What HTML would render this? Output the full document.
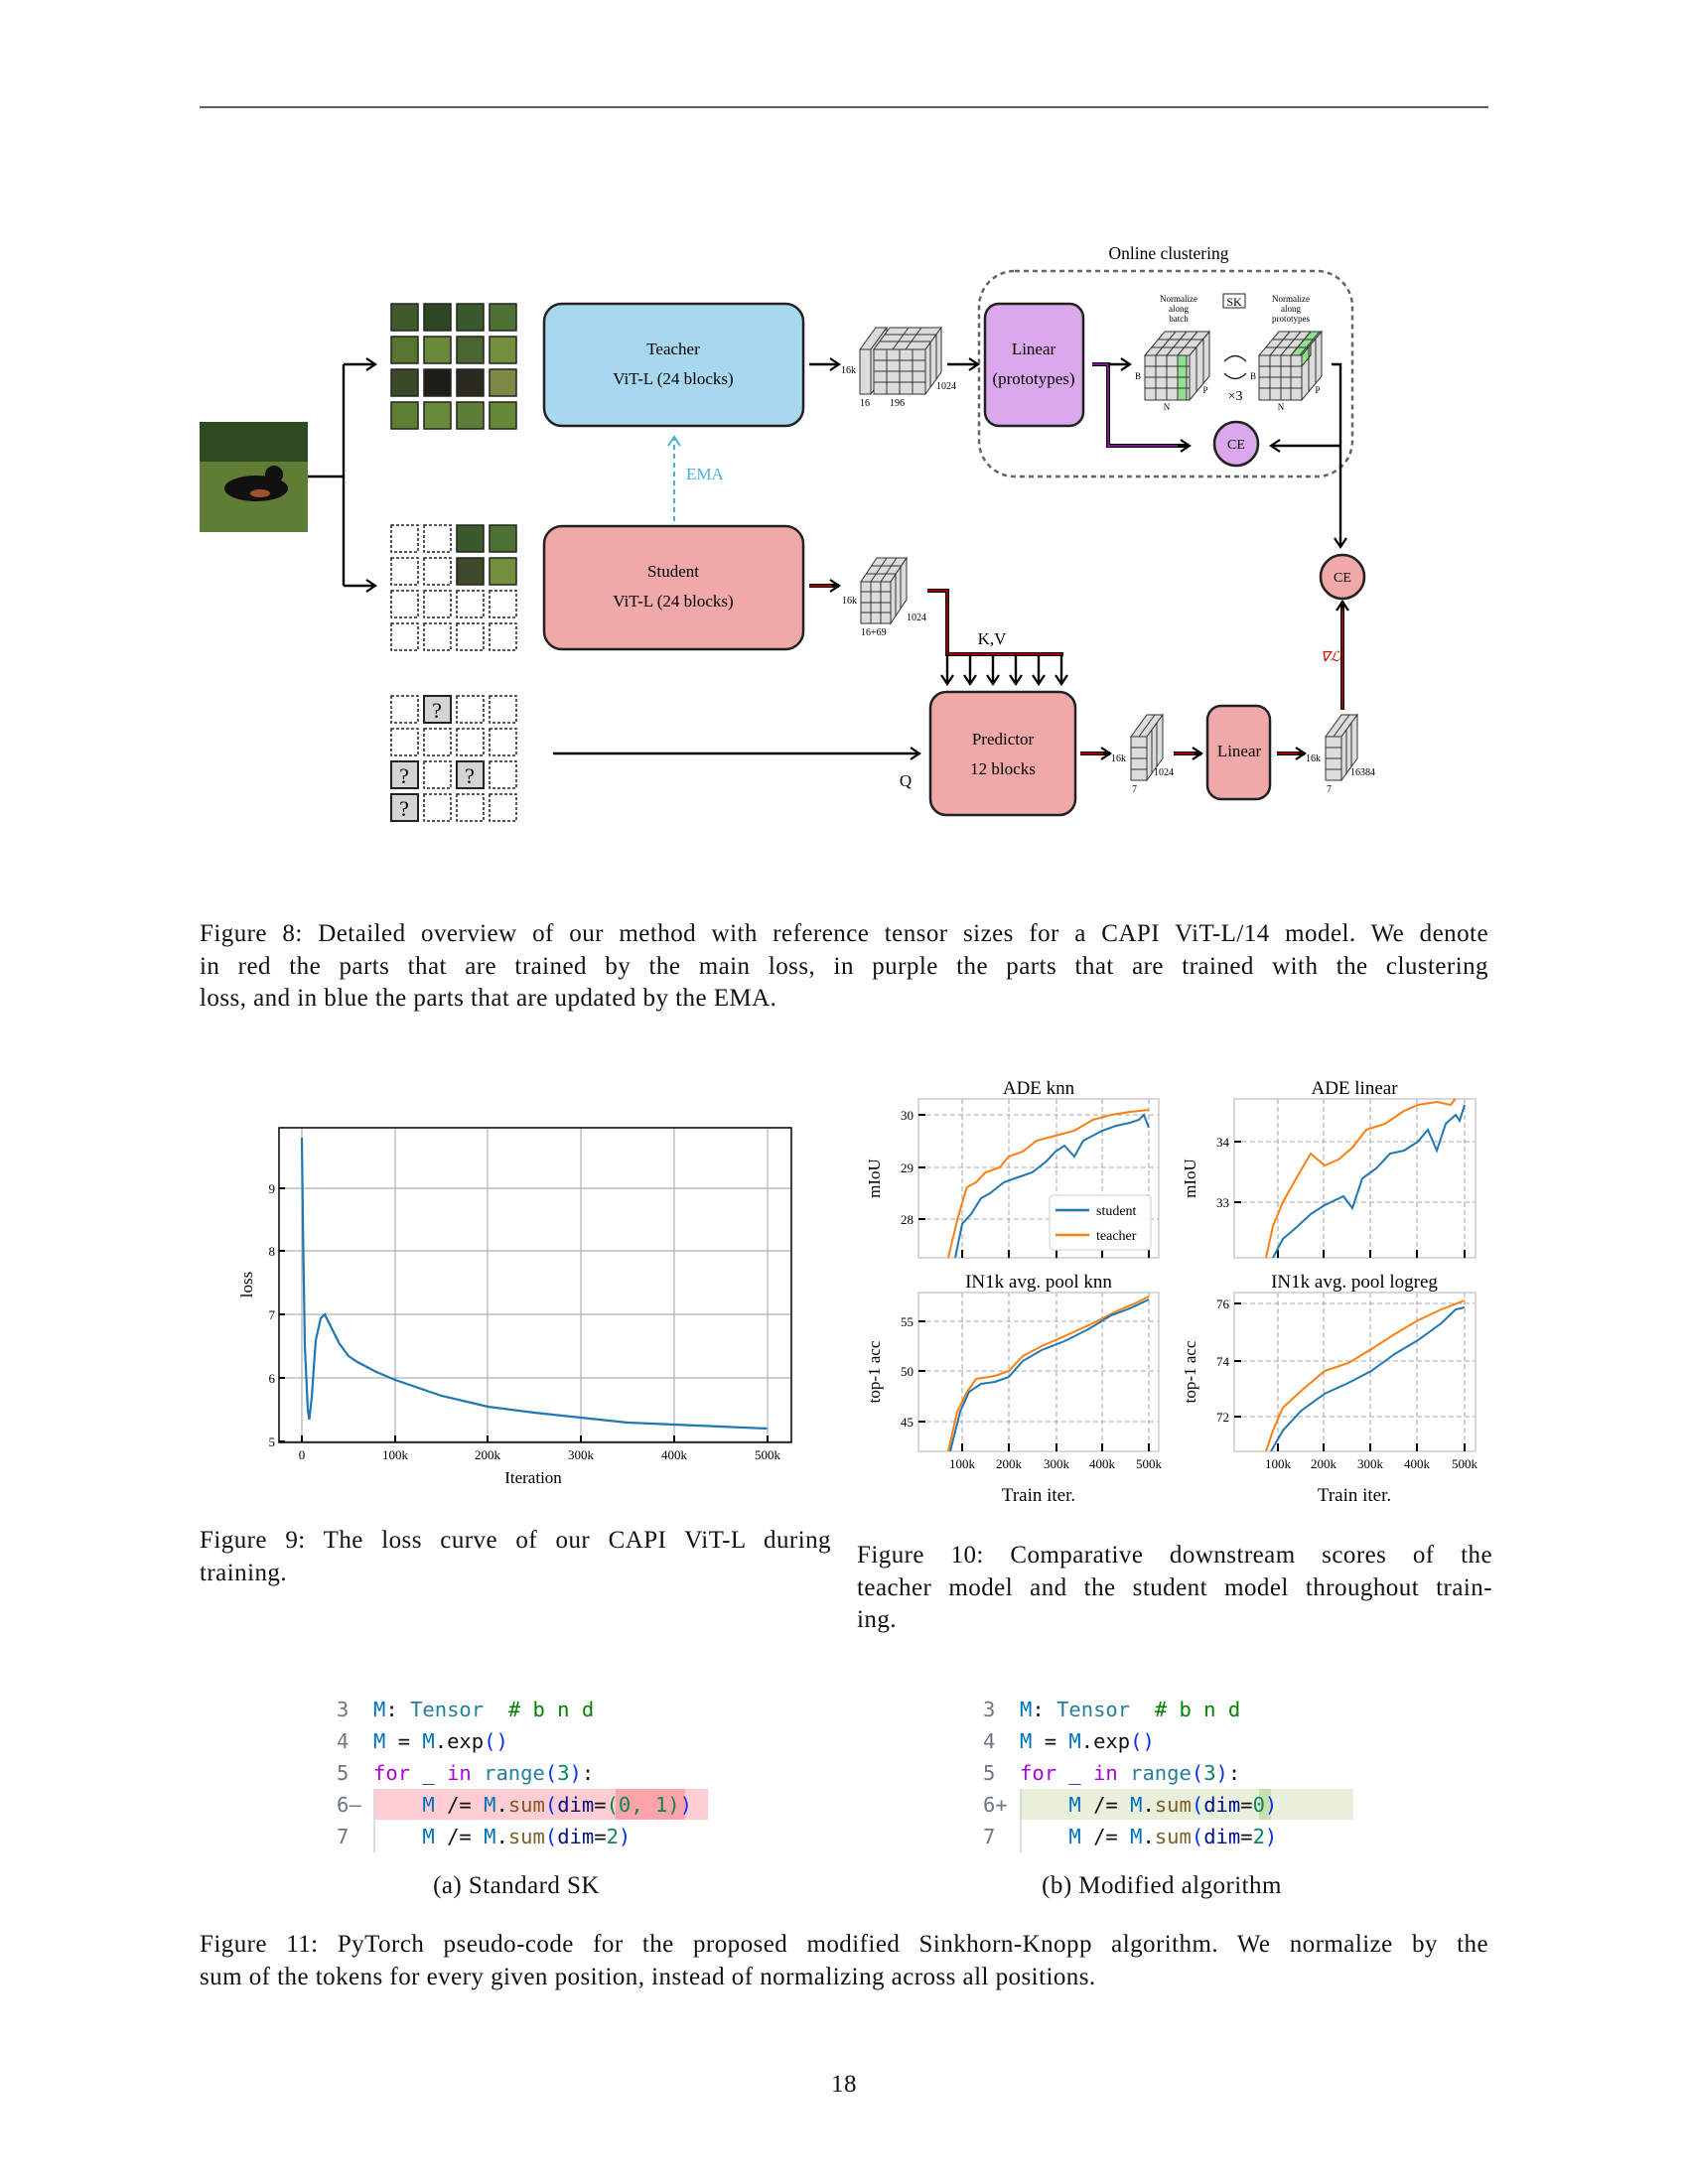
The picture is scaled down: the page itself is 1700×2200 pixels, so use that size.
<!DOCTYPE html>
<html><head><meta charset="utf-8"><style>
body{margin:0;background:#fff;}
#pg{position:relative;width:1700px;height:2200px;overflow:hidden;background:#fff;font-family:"Liberation Serif",serif;color:#111;}
.cap{position:absolute;font-size:25px;letter-spacing:0.45px;line-height:32.5px;}
.j{text-align:justify;text-align-last:justify;white-space:nowrap;}
.code{position:absolute;font-family:"DejaVu Sans Mono","Liberation Mono",monospace;font-size:20.5px;white-space:pre;line-height:32px;}
.ln{color:#6e7681}.b{color:#0070c1}.t{color:#267f99}.g{color:#008000}.p{color:#af00db}.n{color:#098658}.pa{color:#0431fa}.f{color:#795e26}.d{color:#001080}
</style></head><body><div id="pg">
<svg width="1700" height="2200" style="position:absolute;left:0;top:0" font-family="Liberation Serif,serif">
<defs>
<marker id="a" markerWidth="12" markerHeight="14" refX="10" refY="7" orient="auto" markerUnits="userSpaceOnUse"><path d="M1,1 L10,7 L1,13" fill="none" stroke="#000" stroke-width="2.2"/></marker>
<marker id="ab" markerWidth="12" markerHeight="14" refX="10" refY="7" orient="auto" markerUnits="userSpaceOnUse"><path d="M1,1 L10,7 L1,13" fill="none" stroke="#4ab0e0" stroke-width="2"/></marker>
<clipPath id="c1"><rect x="925" y="1107" width="242" height="160"/></clipPath>
<clipPath id="c2"><rect x="1243" y="1107" width="243" height="160"/></clipPath>
<clipPath id="c3"><rect x="925" y="1302" width="242" height="160"/></clipPath>
<clipPath id="c4"><rect x="1243" y="1302" width="243" height="160"/></clipPath>
</defs>
<line x1="201" y1="108" x2="1499" y2="108" stroke="#000" stroke-width="1.3"/>
<!-- dog image -->
<rect x="201" y="425" width="109" height="111" fill="#5f7d35"/>
<rect x="201" y="425" width="109" height="40" fill="#2f4a22"/>
<ellipse cx="258" cy="492" rx="32" ry="13" fill="#111"/><circle cx="276" cy="478" r="9" fill="#111"/>
<ellipse cx="262" cy="497" rx="10" ry="4" fill="#a0522d"/>
<!-- branch -->
<path d="M310,480 H346 M346,367 V590" stroke="#000" stroke-width="2.4" fill="none"/>
<path d="M346,367 H378" stroke="#000" stroke-width="2.4" marker-end="url(#a)"/>
<path d="M346,590 H378" stroke="#000" stroke-width="2.4" marker-end="url(#a)"/>
<!-- teacher patches -->
<g stroke="#222" stroke-width="1.5">
<rect x="394" y="306" width="27" height="27" fill="#3f5a2a"/><rect x="427" y="306" width="27" height="27" fill="#2f4625"/><rect x="460" y="306" width="27" height="27" fill="#3a5a2c"/><rect x="493" y="306" width="27" height="27" fill="#4e7233"/>
<rect x="394" y="339" width="27" height="27" fill="#56752f"/><rect x="427" y="339" width="27" height="27" fill="#6a8a3a"/><rect x="460" y="339" width="27" height="27" fill="#4b6530"/><rect x="493" y="339" width="27" height="27" fill="#718f3d"/>
<rect x="394" y="372" width="27" height="27" fill="#3a4a28"/><rect x="427" y="372" width="27" height="27" fill="#1c1f18"/><rect x="460" y="372" width="27" height="27" fill="#2a2a20"/><rect x="493" y="372" width="27" height="27" fill="#7a8a45"/>
<rect x="394" y="405" width="27" height="27" fill="#5f7f35"/><rect x="427" y="405" width="27" height="27" fill="#6a8a3b"/><rect x="460" y="405" width="27" height="27" fill="#5e7d36"/><rect x="493" y="405" width="27" height="27" fill="#678838"/>
</g>
<!-- student patches -->
<g stroke="#222" stroke-width="1.5" fill="none" stroke-dasharray="3,2">
<rect x="394" y="529" width="27" height="27"/><rect x="427" y="529" width="27" height="27"/>
<rect x="394" y="562" width="27" height="27"/><rect x="427" y="562" width="27" height="27"/>
<rect x="394" y="595" width="27" height="27"/><rect x="427" y="595" width="27" height="27"/><rect x="460" y="595" width="27" height="27"/><rect x="493" y="595" width="27" height="27"/>
<rect x="394" y="628" width="27" height="27"/><rect x="427" y="628" width="27" height="27"/><rect x="460" y="628" width="27" height="27"/><rect x="493" y="628" width="27" height="27"/>
</g>
<g stroke="#222" stroke-width="1.5"><rect x="460" y="529" width="27" height="27" fill="#3a5a2c"/><rect x="493" y="529" width="27" height="27" fill="#4e7233"/><rect x="460" y="562" width="27" height="27" fill="#3d4a2a"/><rect x="493" y="562" width="27" height="27" fill="#718f3d"/></g>
<!-- query patches -->
<g stroke="#222" stroke-width="1.5" fill="none" stroke-dasharray="3,2">
<rect x="394" y="701" width="27" height="27"/><rect x="460" y="701" width="27" height="27"/><rect x="493" y="701" width="27" height="27"/>
<rect x="394" y="734" width="27" height="27"/><rect x="427" y="734" width="27" height="27"/><rect x="460" y="734" width="27" height="27"/><rect x="493" y="734" width="27" height="27"/>
<rect x="427" y="767" width="27" height="27"/><rect x="493" y="767" width="27" height="27"/>
<rect x="427" y="800" width="27" height="27"/><rect x="460" y="800" width="27" height="27"/><rect x="493" y="800" width="27" height="27"/>
</g>
<g stroke="#222" stroke-width="2" fill="#d4d4d4"><rect x="427" y="701" width="27" height="27"/><rect x="394" y="767" width="27" height="27"/><rect x="460" y="767" width="27" height="27"/><rect x="394" y="800" width="27" height="27"/></g>
<g font-size="22" text-anchor="middle"><text x="440" y="723">?</text><text x="407" y="789">?</text><text x="473" y="789">?</text><text x="407" y="822">?</text></g>
<!-- boxes -->
<rect x="548" y="306" width="261" height="123" rx="18" fill="#a8d8ef" stroke="#222" stroke-width="2.5"/>
<text x="678" y="357" font-size="17" text-anchor="middle">Teacher</text><text x="678" y="387" font-size="17" text-anchor="middle">ViT-L (24 blocks)</text>
<rect x="548" y="530" width="261" height="124" rx="18" fill="#f0a8a8" stroke="#222" stroke-width="2.5"/>
<text x="678" y="581" font-size="17" text-anchor="middle">Student</text><text x="678" y="611" font-size="17" text-anchor="middle">ViT-L (24 blocks)</text>
<path d="M679,525 V440" stroke="#4ab0e0" stroke-width="2" stroke-dasharray="5,4" marker-end="url(#ab)"/>
<text x="691" y="483" font-size="17" fill="#4ab0e0">EMA</text>
<!-- online clustering -->
<text x="1177" y="261" font-size="17.5" text-anchor="middle">Online clustering</text>
<rect x="986" y="273" width="376" height="207" rx="36" fill="none" stroke="#666" stroke-width="2.5" stroke-dasharray="5,4"/>
<rect x="992" y="306" width="99" height="123" rx="14" fill="#dba8ec" stroke="#222" stroke-width="2.5"/>
<text x="1041" y="357" font-size="17" text-anchor="middle">Linear</text><text x="1041" y="387" font-size="17" text-anchor="middle">(prototypes)</text>
<!-- teacher arrows & cube -->
<path d="M815,367 H845" stroke="#000" stroke-width="2.4" marker-end="url(#a)"/>
<path d="M954,367 H985" stroke="#000" stroke-width="2.4" marker-end="url(#a)"/>
<g stroke="#333" stroke-width="1" fill="#dcdcdc">
<polygon points="866,352 877,352 893,330 882,330"/><polygon points="877,352 893,330 893,375 877,397"/><rect x="866" y="352" width="11" height="45"/>
<polygon points="880,352 932,352 948,330 896,330"/><polygon points="932,352 948,330 948,375 932,397"/><rect x="880" y="352" width="52" height="45"/>
<path d="M893,352V397M906,352V397M919,352V397M880,363H932M880,374H932M880,385H932M886,344H938M891,337H943M899,352L915,330M912,352L928,330M937,345V390M943,337V382" fill="none"/>
</g>
<g font-size="10"><text x="847" y="376">16k</text><text x="866" y="409">16</text><text x="896" y="409">196</text><text x="943" y="392">1024</text></g>
<!-- clustering cubes -->
<g stroke="#333" stroke-width="1" fill="#dcdcdc">
<polygon points="1153,358 1198,358 1218,334 1173,334"/><polygon points="1198,358 1218,334 1218,379 1198,403"/><rect x="1153" y="358" width="45" height="45"/>
<rect x="1186" y="358" width="9" height="45" fill="#8fe08f"/>
<path d="M1164,358V403M1175,358V403M1186,358V403M1153,369H1198M1153,380H1198M1153,391H1198M1160,350H1205M1167,342H1212M1164,358L1184,334M1175,358L1195,334M1186,358L1206,334M1205,350V395M1212,342V387" fill="none"/>
<polygon points="1268,358 1311,358 1331,334 1288,334"/><polygon points="1311,358 1331,334 1331,379 1311,403"/><rect x="1268" y="358" width="43" height="45"/>
<polygon points="1300,358 1309,358 1329,334 1320,334" fill="#8fe08f"/><polygon points="1311,358 1320,347 1320,358 1311,369" fill="#8fe08f"/>
<path d="M1279,358V403M1290,358V403M1300,358V403M1268,369H1311M1268,380H1311M1268,391H1311M1275,350H1318M1282,342H1325M1279,358L1299,334M1290,358L1310,334M1300,358L1320,334M1318,350V395M1325,342V387" fill="none"/>
</g>
<g font-size="9" text-anchor="middle"><text x="1187" y="304">Normalize</text><text x="1187" y="314">along</text><text x="1187" y="324">batch</text>
<text x="1300" y="304">Normalize</text><text x="1300" y="314">along</text><text x="1300" y="324">prototypes</text>
<text x="1146" y="382">B</text><text x="1262" y="382">B</text><text x="1175" y="413">N</text><text x="1290" y="413">N</text><text x="1214" y="396">P</text><text x="1327" y="396">P</text></g>
<rect x="1232" y="296" width="22" height="14" fill="none" stroke="#222" stroke-width="1"/><text x="1243" y="308" font-size="12" text-anchor="middle">SK</text>
<path d="M1233,364 Q1244,353 1255,364 M1255,376 Q1244,387 1233,376" fill="none" stroke="#222" stroke-width="1.4"/>
<text x="1244" y="403" font-size="14" text-anchor="middle">×3</text>
<!-- purple connector -->
<path d="M1100,367 H1116 V449 H1196" fill="none" stroke="#000" stroke-width="4"/>
<path d="M1100,367 H1116 V449 H1192" fill="none" stroke="#a020c0" stroke-width="1.5"/>
<path d="M1116,367 H1138" stroke="#000" stroke-width="2.4" marker-end="url(#a)"/>
<path d="M1186,449 H1198" stroke="#000" stroke-width="2.4" marker-end="url(#a)"/>
<circle cx="1245" cy="447" r="22" fill="#dba8ec" stroke="#222" stroke-width="2.5"/><text x="1245" y="452" font-size="14" text-anchor="middle">CE</text>
<path d="M1341,367 H1350 V551" fill="none" stroke="#000" stroke-width="2.4" marker-end="url(#a)"/>
<path d="M1350,449 H1280" stroke="#000" stroke-width="2.4" marker-end="url(#a)"/>
<circle cx="1352" cy="581" r="22" fill="#f0a8a8" stroke="#222" stroke-width="2.5"/><text x="1352" y="586" font-size="14" text-anchor="middle">CE</text>
<!-- student side -->
<path d="M815,590 H845" stroke="#000" stroke-width="4" marker-end="url(#a)"/><path d="M815,590 H838" stroke="#d00" stroke-width="1.4"/>
<g stroke="#333" stroke-width="1" fill="#dcdcdc">
<polygon points="867,586 897,586 913,562 883,562"/><polygon points="897,586 913,562 913,604 897,628"/><rect x="867" y="586" width="30" height="42"/>
<path d="M877,586V628M887,586V628M867,596H897M867,607H897M867,617H897M872,578H902M878,570H907M877,586L893,562M887,586L903,562M902,579V621M907,571V613" fill="none"/>
</g>
<g font-size="10"><text x="848" y="608">16k</text><text x="867" y="640">16+69</text><text x="913" y="625">1024</text></g>
<path d="M934,595 H954 V659 H1071" fill="none" stroke="#000" stroke-width="4"/>
<path d="M934,595 H954 V659 H1069" fill="none" stroke="#d00" stroke-width="1.4"/>
<g stroke="#000" stroke-width="2.4" fill="none">
<path d="M954,659V689" marker-end="url(#a)"/><path d="M977,659V689" marker-end="url(#a)"/><path d="M1000,659V689" marker-end="url(#a)"/><path d="M1023,659V689" marker-end="url(#a)"/><path d="M1046,659V689" marker-end="url(#a)"/><path d="M1069,659V689" marker-end="url(#a)"/>
</g>
<text x="999" y="649" font-size="17" text-anchor="middle">K,V</text>
<path d="M557,759 H926" stroke="#000" stroke-width="2.4" marker-end="url(#a)"/>
<text x="912" y="792" font-size="17" text-anchor="middle">Q</text>
<rect x="937" y="697" width="146" height="124" rx="16" fill="#f0a8a8" stroke="#222" stroke-width="2.5"/>
<text x="1010" y="750" font-size="17" text-anchor="middle">Predictor</text><text x="1010" y="780" font-size="17" text-anchor="middle">12 blocks</text>
<path d="M1088,759 H1118" stroke="#000" stroke-width="4" marker-end="url(#a)"/><path d="M1088,759 H1111" stroke="#d00" stroke-width="1.4"/>
<g stroke="#333" stroke-width="1" fill="#dcdcdc">
<polygon points="1139,742 1155,742 1171,720 1155,720"/><polygon points="1155,742 1171,720 1171,764 1155,786"/><rect x="1139" y="742" width="16" height="44"/>
<path d="M1139,753H1155M1139,764H1155M1139,775H1155M1147,742L1163,720M1160,735V779M1165,728V772" fill="none"/>
<polygon points="1335,742 1351,742 1367,720 1351,720"/><polygon points="1351,742 1367,720 1367,764 1351,786"/><rect x="1335" y="742" width="16" height="44"/>
<path d="M1335,753H1351M1335,764H1351M1335,775H1351M1343,742L1359,720M1356,735V779M1361,728V772" fill="none"/>
</g>
<g font-size="10"><text x="1119" y="767">16k</text><text x="1140" y="798">7</text><text x="1162" y="781">1024</text><text x="1315" y="767">16k</text><text x="1336" y="798">7</text><text x="1360" y="781">16384</text></g>
<path d="M1182,759 H1210" stroke="#000" stroke-width="4" marker-end="url(#a)"/><path d="M1182,759 H1203" stroke="#d00" stroke-width="1.4"/>
<rect x="1216" y="711" width="63" height="94" rx="14" fill="#f0a8a8" stroke="#222" stroke-width="2.5"/>
<text x="1248" y="762" font-size="17" text-anchor="middle">Linear</text>
<path d="M1286,759 H1314" stroke="#000" stroke-width="4" marker-end="url(#a)"/><path d="M1286,759 H1307" stroke="#d00" stroke-width="1.4"/>
<path d="M1352,715 V606" stroke="#000" stroke-width="4" marker-end="url(#a)"/><path d="M1352,715 V613" stroke="#d00" stroke-width="1.4"/>
<text x="1330" y="666" font-size="14" fill="#d00" font-style="italic">∇ℒ</text>

<!-- Loss plot -->
<g stroke="#b0b0b0" stroke-width="1.2">
<path d="M398,1136V1453M491,1136V1453M585,1136V1453M679,1136V1453M773,1136V1453M304,1136V1453M281,1388H797M281,1324H797M281,1260H797M281,1197H797M281,1452H797"/></g>
<rect x="281" y="1136" width="516" height="317" fill="none" stroke="#000" stroke-width="1.5"/>
<g stroke="#000" stroke-width="2"><path d="M281,1452h6M281,1388h6M281,1324h6M281,1260h6M281,1197h6M304,1453v-7M398,1453v-7M491,1453v-7M585,1453v-7M679,1453v-7M773,1453v-7"/></g>
<g font-size="13" text-anchor="end"><text x="277" y="1457">5</text><text x="277" y="1393">6</text><text x="277" y="1329">7</text><text x="277" y="1265">8</text><text x="277" y="1202">9</text></g>
<g font-size="13" text-anchor="middle"><text x="304" y="1470">0</text><text x="398" y="1470">100k</text><text x="491" y="1470">200k</text><text x="585" y="1470">300k</text><text x="679" y="1470">400k</text><text x="773" y="1470">500k</text></g>
<text x="537" y="1494" font-size="17" text-anchor="middle">Iteration</text>
<text transform="translate(254,1294) rotate(-90)" font-size="17" text-anchor="middle">loss</text>
<polyline fill="none" stroke="#1f77b4" stroke-width="2.2" points="304,1146 305,1229 307,1356 310,1420 311.5,1430 314,1407 318,1350 323,1328 327,1324 332,1334 341.5,1353 351,1366 360,1372 379,1382 398,1390 444.5,1406 491.4,1417 538,1423 585,1428 632,1433 679,1435 725.6,1437 772.5,1439"/>

<!-- Fig10 axes -->
<g stroke="#aaa" stroke-width="1.1" stroke-dasharray="5,3">
<path d="M969,1107V1267M1016,1107V1267M1064,1107V1267M1110,1107V1267M1157,1107V1267M925,1123H1167M925,1176H1167M925,1228H1167"/>
<path d="M1287,1107V1267M1333,1107V1267M1380,1107V1267M1427,1107V1267M1475,1107V1267M1243,1150H1486M1243,1211H1486"/>
<path d="M969,1302V1462M1016,1302V1462M1064,1302V1462M1110,1302V1462M1157,1302V1462M925,1331H1167M925,1381H1167M925,1432H1167"/>
<path d="M1287,1302V1462M1333,1302V1462M1380,1302V1462M1427,1302V1462M1475,1302V1462M1243,1313H1486M1243,1371H1486M1243,1427H1486"/>
</g>
<g fill="none" stroke="#ccc" stroke-width="1.5"><rect x="925" y="1107" width="242" height="160"/><rect x="1243" y="1107" width="243" height="160"/><rect x="925" y="1302" width="242" height="160"/><rect x="1243" y="1302" width="243" height="160"/></g>
<g stroke="#000" stroke-width="2"><path d="M925,1123h7M925,1176h7M925,1228h7M1243,1150h7M1243,1211h7M925,1331h7M925,1381h7M925,1432h7M1243,1313h7M1243,1371h7M1243,1427h7"/>
<path d="M969,1267v-8M1016,1267v-8M1064,1267v-8M1110,1267v-8M1157,1267v-8M1287,1267v-8M1333,1267v-8M1380,1267v-8M1427,1267v-8M1475,1267v-8M969,1462v-8M1016,1462v-8M1064,1462v-8M1110,1462v-8M1157,1462v-8M1287,1462v-8M1333,1462v-8M1380,1462v-8M1427,1462v-8M1475,1462v-8"/></g>
<g font-size="13" text-anchor="end"><text x="920" y="1128">30</text><text x="920" y="1181">29</text><text x="920" y="1233">28</text><text x="1238" y="1155">34</text><text x="1238" y="1216">33</text>
<text x="920" y="1336">55</text><text x="920" y="1386">50</text><text x="920" y="1437">45</text><text x="1238" y="1318">76</text><text x="1238" y="1376">74</text><text x="1238" y="1432">72</text></g>
<g font-size="13" text-anchor="middle"><text x="969" y="1479">100k</text><text x="1016" y="1479">200k</text><text x="1064" y="1479">300k</text><text x="1110" y="1479">400k</text><text x="1157" y="1479">500k</text>
<text x="1287" y="1479">100k</text><text x="1333" y="1479">200k</text><text x="1380" y="1479">300k</text><text x="1427" y="1479">400k</text><text x="1475" y="1479">500k</text></g>
<g font-size="19" text-anchor="middle"><text x="1046" y="1102">ADE knn</text><text x="1364" y="1102">ADE linear</text><text x="1046" y="1297">IN1k avg. pool knn</text><text x="1364" y="1297">IN1k avg. pool logreg</text>
<text x="1046" y="1512">Train iter.</text><text x="1364" y="1512">Train iter.</text></g>
<g font-size="17" text-anchor="middle"><text transform="translate(886,1187) rotate(-90)">mIoU</text><text transform="translate(1204,1187) rotate(-90)">mIoU</text>
<text transform="translate(886,1382) rotate(-90)">top-1 acc</text><text transform="translate(1204,1382) rotate(-90)">top-1 acc</text></g>
<g fill="none" stroke-width="2">
<g clip-path="url(#c1)">
<polyline stroke="#ff7f0e" points="955,1267 964.3,1228 973.7,1196 983,1191 992.5,1181 1006.6,1176 1016,1165 1030,1160 1044,1149 1063,1144 1082,1139 1100.6,1128 1119,1123 1138,1120 1157,1118"/>
<polyline stroke="#1f77b4" points="962,1267 969,1233 978,1223 988,1207 997,1202 1011,1191 1025,1186 1039.5,1181 1053.6,1170 1063,1160 1072,1154 1082,1165 1091,1149 1100.6,1144 1110,1139 1124,1134 1138,1131 1147,1128 1152,1123 1157,1136"/></g>
<g clip-path="url(#c2)">
<polyline stroke="#ff7f0e" points="1275,1267 1282,1235 1292,1211 1306,1186 1320,1162 1334,1174 1348,1168 1362,1156 1376,1138 1395,1132 1414,1119 1428,1113 1447,1110 1461,1113 1470,1101 1475,1104"/>
<polyline stroke="#1f77b4" points="1282,1267 1292,1248 1306,1236 1320,1223 1334,1214 1353,1205 1362,1217 1372,1187 1386,1177 1400,1162 1414,1159 1428,1150 1438,1138 1447,1159 1456,1132 1466,1123 1470,1129 1475,1113"/></g>
<g clip-path="url(#c3)">
<polyline stroke="#ff7f0e" points="955,1462 964,1422 974,1402 983,1389 1002,1386 1016,1381 1030,1366 1049,1356 1072,1346 1100.6,1333 1124,1321 1143,1313 1157,1306"/>
<polyline stroke="#1f77b4" points="957,1462 967,1422 976,1402 988,1394 1002,1392 1016,1387 1030,1371 1049,1360 1072,1351 1096,1339 1119,1325 1138,1318 1157,1309"/></g>
<g clip-path="url(#c4)">
<polyline stroke="#ff7f0e" points="1275,1462 1282,1441 1292,1418 1310.5,1401 1334,1381 1358,1373 1381,1359 1404.5,1344 1428,1330 1451.5,1319 1475,1310"/>
<polyline stroke="#1f77b4" points="1280,1462 1292,1441 1310.5,1421 1334,1404 1358,1393 1381,1381 1404.5,1364 1428,1350 1451.5,1333 1466,1319 1475,1317"/></g>
</g>
<rect x="1057" y="1204" width="102" height="55" rx="4" fill="#fff" fill-opacity="0.9" stroke="#ddd" stroke-width="1.5"/>
<path d="M1063,1219H1097" stroke="#1f77b4" stroke-width="2.5"/><path d="M1063,1244H1097" stroke="#ff7f0e" stroke-width="2.5"/>
<g font-size="14"><text x="1104" y="1224">student</text><text x="1104" y="1249">teacher</text></g>
<!-- code highlights -->
<rect x="377" y="1802" width="336" height="31" fill="#ffcdd2"/><rect x="620" y="1802" width="70" height="31" fill="#ffa3aa"/>
<rect x="1028" y="1802" width="335" height="31" fill="#e8f0dc"/><rect x="1268" y="1802" width="12" height="31" fill="#c9e0ae"/>
<path d="M377,1802V1866M1028,1802V1866" stroke="#ccc" stroke-width="1.3"/>
</svg>

<div class="cap" style="left:201px;top:925px;width:1298px">
<div class="j">Figure 8: Detailed overview of our method with reference tensor sizes for a CAPI ViT-L/14 model. We denote</div>
<div class="j">in red the parts that are trained by the main loss, in purple the parts that are trained with the clustering</div>
<div>loss, and in blue the parts that are updated by the EMA.</div></div>
<div class="cap" style="left:201px;top:1536px;width:636px">
<div class="j">Figure 9: The loss curve of our CAPI ViT-L during</div><div>training.</div></div>
<div class="cap" style="left:863px;top:1551px;width:640px">
<div class="j">Figure 10: Comparative downstream scores of the</div>
<div class="j">teacher model and the student model throughout train-</div><div>ing.</div></div>

<div class="code" style="left:339px;top:1706px"><span class="ln">3</span>  <span class="b">M</span>: <span class="t">Tensor</span>  <span class="g"># b n d</span>
<span class="ln">4</span>  <span class="b">M</span> = <span class="b">M</span>.exp<span class="pa">()</span>
<span class="ln">5</span>  <span class="p">for</span> <span class="d">_</span> <span class="p">in</span> <span class="t">range</span><span class="pa">(</span><span class="n">3</span><span class="pa">)</span>:
<span class="ln">6—</span>     <span class="b">M</span> /= <span class="b">M</span>.<span class="f">sum</span><span class="pa">(</span><span class="d">dim</span>=<span class="n">(0, 1)</span><span class="pa">)</span>
<span class="ln">7</span>      <span class="b">M</span> /= <span class="b">M</span>.<span class="f">sum</span><span class="pa">(</span><span class="d">dim</span>=<span class="n">2</span><span class="pa">)</span></div>
<div class="code" style="left:990px;top:1706px"><span class="ln">3</span>  <span class="b">M</span>: <span class="t">Tensor</span>  <span class="g"># b n d</span>
<span class="ln">4</span>  <span class="b">M</span> = <span class="b">M</span>.exp<span class="pa">()</span>
<span class="ln">5</span>  <span class="p">for</span> <span class="d">_</span> <span class="p">in</span> <span class="t">range</span><span class="pa">(</span><span class="n">3</span><span class="pa">)</span>:
<span class="ln">6+</span>     <span class="b">M</span> /= <span class="b">M</span>.<span class="f">sum</span><span class="pa">(</span><span class="d">dim</span>=<span class="n">0</span><span class="pa">)</span>
<span class="ln">7</span>      <span class="b">M</span> /= <span class="b">M</span>.<span class="f">sum</span><span class="pa">(</span><span class="d">dim</span>=<span class="n">2</span><span class="pa">)</span></div>

<div class="cap" style="left:395px;top:1884px;width:250px;text-align:center">(a) Standard SK</div>
<div class="cap" style="left:1000px;top:1884px;width:340px;text-align:center">(b) Modified algorithm</div>
<div class="cap" style="left:201px;top:1943px;width:1298px">
<div class="j">Figure 11: PyTorch pseudo-code for the proposed modified Sinkhorn-Knopp algorithm. We normalize by the</div>
<div>sum of the tokens for every given position, instead of normalizing across all positions.</div></div>
<div class="cap" style="left:800px;top:2084px;width:100px;text-align:center">18</div>
</div></body></html>
